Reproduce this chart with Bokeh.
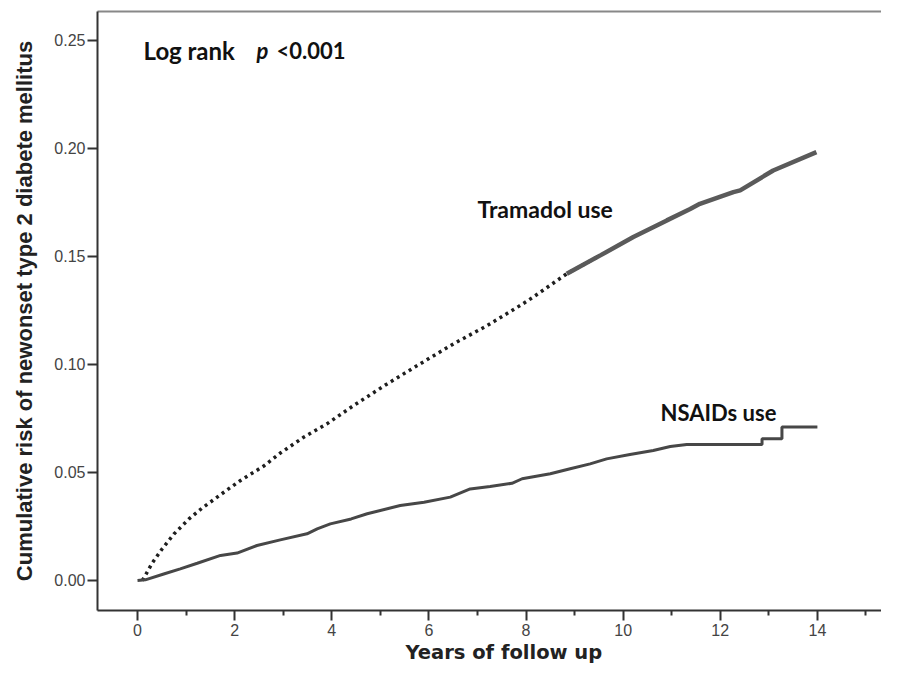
from bokeh.plotting import figure
from bokeh.models import FixedTicker, Label, LinearAxis, Range1d, Title
from bokeh.embed import file_html
from bokeh.resources import INLINE

# ---- data ----
tram_years = [0.10, 0.16, 0.30, 0.51, 0.75, 1.06, 1.33, 1.85, 2.12, 2.60, 2.94, 3.42,
              3.90, 4.45, 5.14, 5.82, 6.51, 7.20, 7.88, 8.15, 8.84, 9.53, 10.21,
              10.90, 11.38, 11.58, 12.27, 12.41, 13.09, 13.98]
tram_risk = [0.000, 0.0023, 0.0080, 0.0147, 0.0215, 0.0285, 0.0335, 0.0420, 0.0463,
             0.0530, 0.0590, 0.0663, 0.0725, 0.0810, 0.0910, 0.1003, 0.1096, 0.1180,
             0.1273, 0.1312, 0.1420, 0.1505, 0.1590, 0.1667, 0.1720, 0.1744, 0.1798,
             0.1806, 0.1898, 0.1983]

nsaid_years = [0.0, 0.16, 0.54, 0.88, 1.23, 1.71, 2.05, 2.46, 2.94, 3.49, 3.70, 3.97,
               4.40, 4.73, 5.41, 5.90, 6.44, 6.85, 7.26, 7.71, 7.92, 8.50, 8.91, 9.32,
               9.66, 10.14, 10.62, 10.97, 11.31, 12.86, 12.86, 13.27, 13.27, 14.0]
nsaid_risk = [0.0, 0.0003, 0.0030, 0.0054, 0.0080, 0.0116, 0.0127, 0.0162, 0.0188,
              0.0216, 0.0239, 0.0262, 0.0285, 0.0309, 0.0347, 0.0362, 0.0386, 0.0424,
              0.0435, 0.0450, 0.0471, 0.0494, 0.0517, 0.0540, 0.0563, 0.0583, 0.0602,
              0.0620, 0.0630, 0.0630, 0.0656, 0.0656, 0.0710, 0.0710]

x_ticks = [0, 2, 4, 6, 8, 10, 12, 14]
x_tick_labels = ["0", "2", "4", "6", "8", "10", "12", "14"]
x_minor_ticks = [1, 3, 5, 7, 9, 11, 13, 15]
y_ticks = [0.0, 0.05, 0.10, 0.15, 0.20, 0.25]
y_tick_labels = ["0.00", "0.05", "0.10", "0.15", "0.20", "0.25"]

x_title = "Years of follow up"
y_title = "Cumulative risk of newonset type 2 diabete mellitus"
tram_name = "Tramadol use"
nsaid_name = "NSAIDs use"

# ---- figure ----
p = figure(width=881, height=664,
           x_range=Range1d(-0.824, 15.32), y_range=Range1d(-0.01389, 0.2634),
           output_backend="svg", toolbar_location=None,
           min_border_left=97, min_border_right=0, min_border_top=11,
           min_border_bottom=54)
p.xgrid.visible = False
p.ygrid.visible = False
p.outline_line_color = None
p.background_fill_color = "white"
p.border_fill_color = "white"

tick_font = "Liberation Sans"

xa = p.xaxis[0]
xa.ticker = FixedTicker(ticks=x_ticks, minor_ticks=x_minor_ticks)
xa.major_label_overrides = {t: l for t, l in zip(x_ticks, x_tick_labels)}
xa.axis_line_color = "#333333"
xa.axis_line_width = 2
xa.major_tick_line_color = "#333333"
xa.major_tick_line_width = 2
xa.major_tick_in = 0
xa.major_tick_out = 10
xa.minor_tick_line_color = "#333333"
xa.minor_tick_line_width = 2
xa.minor_tick_in = 0
xa.minor_tick_out = 5
xa.major_label_standoff = 3
xa.major_label_text_font = tick_font
xa.major_label_text_font_size = "16px"
xa.major_label_text_color = "#444444"

ya = p.yaxis[0]
ya.ticker = FixedTicker(ticks=y_ticks, minor_ticks=[])
ya.major_label_overrides = {t: l for t, l in zip(y_ticks, y_tick_labels)}
ya.axis_line_color = "#333333"
ya.axis_line_width = 2
ya.major_tick_line_color = "#333333"
ya.major_tick_line_width = 2
ya.major_tick_in = 0
ya.major_tick_out = 10
ya.minor_tick_out = 0
ya.minor_tick_in = 0
ya.major_label_standoff = 2
ya.major_label_text_font = tick_font
ya.major_label_text_font_size = "16px"
ya.major_label_text_color = "#444444"
ya.axis_label = y_title
ya.axis_label_text_font = "Liberation Sans"
ya.axis_label_text_font_style = "bold"
ya.axis_label_text_font_size = "22px"
ya.axis_label_text_color = "#222222"
ya.axis_label_standoff = 14

top = LinearAxis(ticker=FixedTicker(ticks=[], minor_ticks=[]),
                 axis_line_color="#888888", axis_line_width=2,
                 major_tick_out=0, major_tick_in=0, minor_tick_out=0, minor_tick_in=0,
                 major_label_text_font_size="0px")
p.add_layout(top, "above")

# x-axis title, placed in the bottom border
p.add_layout(Title(text=x_title, align="left", offset=308, standoff=0,
                   text_font="DejaVu Sans", text_font_style="bold",
                   text_font_size="19.5px", text_color="#222222"), "below")

# ---- curves ----
n_dot = 22   # dotted part of the Tramadol curve
n_solid = 20
p.line(tram_years[:n_dot], tram_risk[:n_dot], line_color="#1e1e1e", line_width=3.5,
       line_dash="3 4")
p.line(tram_years[n_solid:], tram_risk[n_solid:], line_color="#5a5a5a", line_width=4.5)

p.line(nsaid_years, nsaid_risk, line_color="#474747", line_width=3)

# ---- annotations ----
ann_font = "Lato"
ann = dict(text_font=ann_font, text_color="#111111", text_baseline="alphabetic")
p.add_layout(Label(x=0.124, y=0.2454, text="Log rank", text_font_style="bold",
                   text_font_size="24px", **ann))
p.add_layout(Label(x=2.45, y=0.2454, text="p", text_font_style="bold italic",
                   text_font_size="22px", **ann))
p.add_layout(Label(x=2.86, y=0.2454, text="<0.001", text_font_style="bold",
                   text_font_size="22px", **ann))
p.add_layout(Label(x=7.0, y=0.1718, text=tram_name, text_font_style="bold",
                   text_font_size="23px", **ann))
p.add_layout(Label(x=10.77, y=0.0778, text=nsaid_name, text_font_style="bold",
                   text_font_size="22px", **ann))

open("out.html", "w").write(file_html(p, INLINE))
